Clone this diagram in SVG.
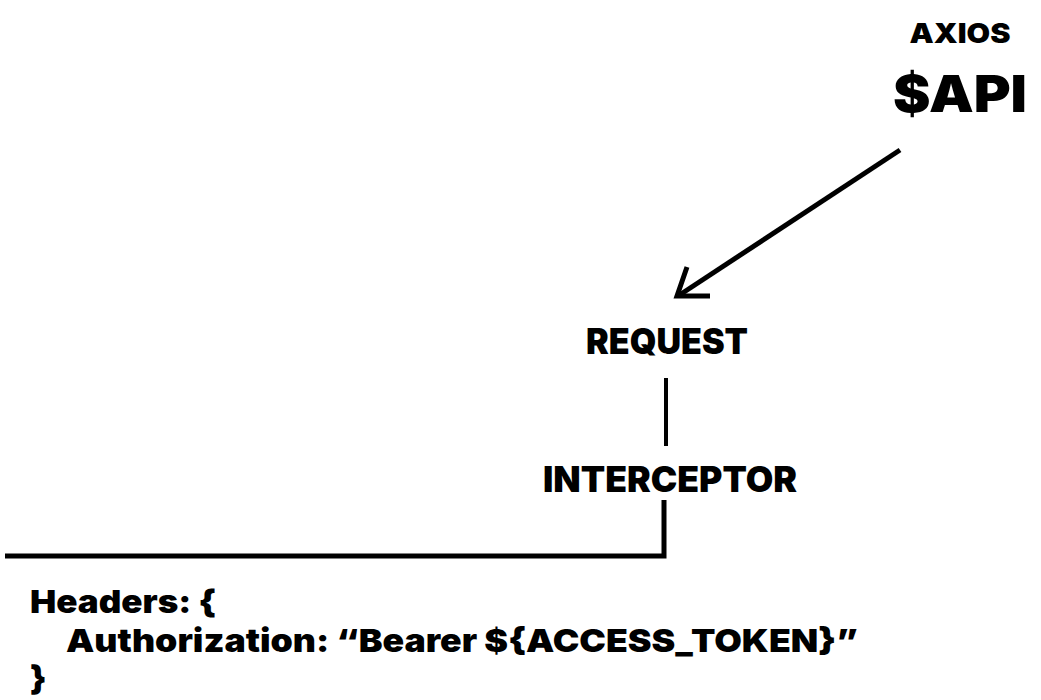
<svg xmlns="http://www.w3.org/2000/svg" width="1041" height="700" viewBox="0 0 1041 700">
<style>
text{font-family:Inter,"Open Sans","Liberation Sans",sans-serif;font-weight:900;fill:#000}
.ln{fill:none;stroke:#000;stroke-linecap:butt;stroke-linejoin:miter}
</style>
<rect width="1041" height="700" fill="#fff"/>
<g id="axios">
<text x="960" y="43" font-size="27" text-anchor="middle" textLength="101" lengthAdjust="spacingAndGlyphs">AXIOS</text>
<text x="960" y="112" font-size="51" text-anchor="middle" textLength="134" lengthAdjust="spacingAndGlyphs">$API</text>
</g>
<g id="request">
<text x="667" y="354" font-size="35" text-anchor="middle" textLength="162" lengthAdjust="spacingAndGlyphs">REQUEST</text>
</g>
<g id="interceptor">
<text x="670" y="492" font-size="35" text-anchor="middle" textLength="254" lengthAdjust="spacingAndGlyphs">INTERCEPTOR</text>
</g>
<g id="headers">
<text x="30" y="613" font-size="32" textLength="186" lengthAdjust="spacingAndGlyphs">Headers: {</text>
<text x="66" y="652" font-size="32" textLength="792" lengthAdjust="spacingAndGlyphs">Authorization: “Bearer ${ACCESS_TOKEN}”</text>
<text x="30" y="690" font-size="33">}</text>
</g>
<g id="connectors">
<path class="ln" stroke-width="5" d="M900 150 L678 296"/>
<path class="ln" stroke-width="5" d="M687 267 L677 296 L710 296"/>
<path class="ln" stroke-width="4" d="M666 378 V446"/>
<path class="ln" stroke-width="5" d="M664 500 V556 H5"/>
</g>
</svg>
